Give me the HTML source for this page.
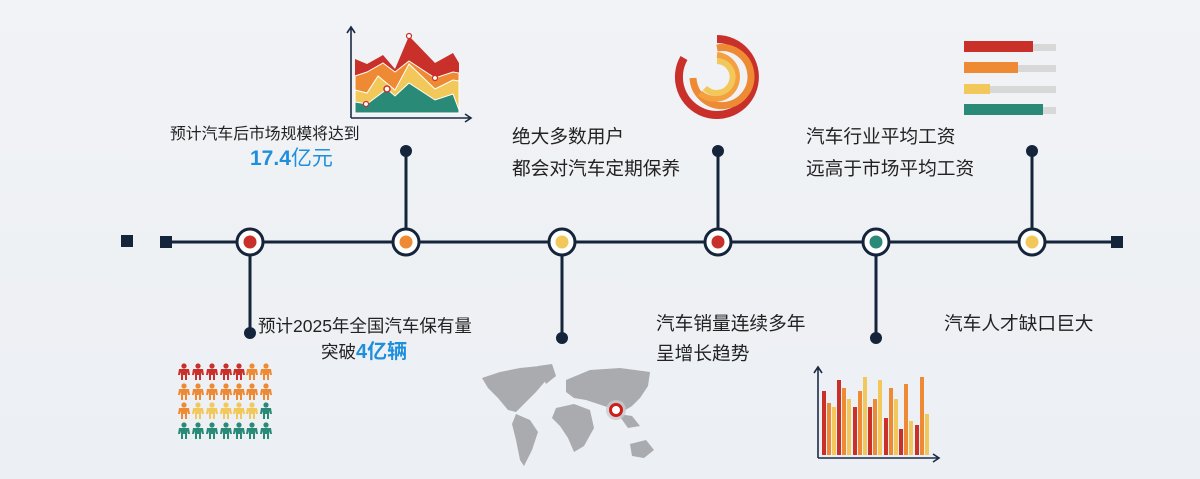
<!DOCTYPE html>
<html><head><meta charset="utf-8"><style>
html,body{margin:0;padding:0}
body{width:1200px;height:479px;overflow:hidden;background:linear-gradient(180deg,#f1f3f6,#eceff3);font-family:"Liberation Sans","Noto Sans CJK SC",sans-serif;position:relative}
.t{position:absolute;color:#222;white-space:nowrap;font-size:18.7px;line-height:22px}
.b{color:#1d8fdc;font-weight:bold}
</style></head><body>
<svg width="1200" height="479" style="position:absolute;left:0;top:0">
<g>
<polygon points="355,59 367,64 383,55 395,69 409,36 435,63 453,53 459,63 459,113 355,113" fill="#c9302a"/>
<polygon points="355,76 367,72 383,63 395,72 409,61 435,78 453,72 459,73 459,113 355,113" fill="#ee8a33" stroke="#fff" stroke-width="1"/>
<polygon points="355,90 367,93 378,76 395,90 409,64 435,89 453,80 459,81 459,113 355,113" fill="#f2c85a" stroke="#fff" stroke-width="1"/>
<polygon points="355,102 367,104 387,89 395,96 409,83 435,100 453,94 459,110 459,113 355,113" fill="#2a8a78" stroke="#fff" stroke-width="1"/>
<circle cx="409" cy="36" r="2.5" fill="#fff" stroke="#c9302a" stroke-width="1.2"/>
<circle cx="387" cy="89" r="3" fill="#fff" stroke="#c9302a" stroke-width="1.5"/>
<circle cx="366" cy="104" r="2.5" fill="#fff" stroke="#c9302a" stroke-width="1.2"/>
<circle cx="435" cy="78" r="2.5" fill="#fff" stroke="#c9302a" stroke-width="1.2"/>
<path d="M351,118 V28 M347,33 L351,27 L355,33 M351,118 H470 M465,114 L471,118 L465,122" fill="none" stroke="#1c2b44" stroke-width="1.6"/>
</g>
<g fill="none">
<path d="M717,39 A38,38 0 1 1 684,58" stroke="#c9302a" stroke-width="8"/>
<path d="M717,48 A29,29 0 1 1 693,78" stroke="#ee8a33" stroke-width="7"/>
<path d="M717,55 A22,22 0 1 1 700,93" stroke="#f5a040" stroke-width="6"/>
<path d="M717,61 A16,16 0 1 1 705,88" stroke="#f2c85a" stroke-width="6"/>
</g>
<g>
<rect x="966" y="44" width="90" height="7" fill="#d8d8d8"/><rect x="964" y="41" width="69" height="11" fill="#c9302a"/>
<rect x="966" y="65" width="90" height="7" fill="#d8d8d8"/><rect x="964" y="62" width="54" height="11" fill="#ee8a33"/>
<rect x="966" y="86" width="90" height="7" fill="#d8d8d8"/><rect x="964" y="84" width="26" height="10" fill="#f2c85a"/>
<rect x="966" y="107" width="90" height="7" fill="#d8d8d8"/><rect x="964" y="104" width="79" height="11" fill="#2a8a78"/>
</g>
<g stroke="#14253b" stroke-width="3">
<line x1="166" y1="242" x2="1117" y2="242"/>
<line x1="250" y1="242" x2="250" y2="333"/>
<line x1="406" y1="242" x2="406" y2="151"/>
<line x1="562" y1="242" x2="562" y2="338"/>
<line x1="718" y1="242" x2="718" y2="151"/>
<line x1="876" y1="242" x2="876" y2="338"/>
<line x1="1032" y1="242" x2="1032" y2="151"/>
</g>
<g fill="#14253b">
<rect x="121" y="235" width="12" height="12"/><rect x="160" y="236" width="12" height="12"/><rect x="1111" y="236" width="12" height="12"/>
<circle cx="250" cy="333" r="6"/><circle cx="406" cy="151" r="6"/><circle cx="562" cy="338" r="6"/><circle cx="718" cy="151" r="6"/><circle cx="876" cy="338" r="6"/><circle cx="1032" cy="151" r="6"/>
</g>
<g stroke="#14253b" stroke-width="3" fill="#fff">
<circle cx="250" cy="242" r="13"/><circle cx="406" cy="242" r="13"/><circle cx="562" cy="242" r="13"/><circle cx="718" cy="242" r="13"/><circle cx="876" cy="242" r="13"/><circle cx="1032" cy="242" r="13"/>
</g>
<circle cx="250" cy="242" r="6.5" fill="#c9302a"/><circle cx="406" cy="242" r="6.5" fill="#ee8a33"/><circle cx="562" cy="242" r="6.5" fill="#f2c85a"/><circle cx="718" cy="242" r="6.5" fill="#c9302a"/><circle cx="876" cy="242" r="6.5" fill="#2a8a78"/><circle cx="1032" cy="242" r="6.5" fill="#f2c85a"/>
<defs><g id="p"><circle cx="0" cy="-6" r="2.6"/><path d="M-5,-3 H5 L6,3 H4 L3,0 V8 H1 V3 H-1 V8 H-3 V0 L-4,3 H-6 Z"/></g></defs>
<g>
<use href="#p" x="184" y="372" fill="#c9302a"/><use href="#p" x="198" y="372" fill="#c9302a"/><use href="#p" x="212" y="372" fill="#c9302a"/><use href="#p" x="226" y="372" fill="#c9302a"/><use href="#p" x="239" y="372" fill="#c9302a"/><use href="#p" x="252" y="372" fill="#ee8a33"/><use href="#p" x="266" y="372" fill="#ee8a33"/>
<use href="#p" x="184" y="392" fill="#ee8a33"/><use href="#p" x="198" y="392" fill="#ee8a33"/><use href="#p" x="212" y="392" fill="#ee8a33"/><use href="#p" x="226" y="392" fill="#ee8a33"/><use href="#p" x="239" y="392" fill="#ee8a33"/><use href="#p" x="252" y="392" fill="#ee8a33"/><use href="#p" x="266" y="392" fill="#ee8a33"/>
<use href="#p" x="184" y="411" fill="#ee8a33"/><use href="#p" x="198" y="411" fill="#f2c85a"/><use href="#p" x="212" y="411" fill="#f2c85a"/><use href="#p" x="226" y="411" fill="#f2c85a"/><use href="#p" x="239" y="411" fill="#f2c85a"/><use href="#p" x="252" y="411" fill="#f2c85a"/><use href="#p" x="266" y="411" fill="#2a8a78"/>
<use href="#p" x="184" y="431" fill="#2a8a78"/><use href="#p" x="198" y="431" fill="#2a8a78"/><use href="#p" x="212" y="431" fill="#2a8a78"/><use href="#p" x="226" y="431" fill="#2a8a78"/><use href="#p" x="239" y="431" fill="#2a8a78"/><use href="#p" x="252" y="431" fill="#2a8a78"/><use href="#p" x="266" y="431" fill="#2a8a78"/>
</g>
<g fill="#a9abae">
<path d="M482,378 L500,372 L520,368 L540,366 L548,378 L536,392 L526,402 L516,412 L508,410 L498,398 L488,388 Z"/>
<path d="M538,366 L552,364 L556,376 L546,384 Z"/>
<path d="M516,414 L530,420 L538,432 L532,450 L524,466 L520,460 L516,440 L512,424 Z"/>
<path d="M556,408 L574,404 L590,410 L594,428 L584,446 L574,452 L568,438 L560,426 L552,418 Z"/>
<path d="M566,380 L590,370 L620,368 L650,372 L648,386 L640,398 L632,406 L622,412 L610,408 L598,404 L586,400 L574,398 L566,392 Z"/>
<path d="M630,444 L646,440 L654,450 L644,458 L632,456 Z"/>
<path d="M618,414 L632,416 L640,426 L628,428 Z"/>
</g>
<circle cx="616" cy="410" r="10" fill="#c8ccd0" opacity=".8"/>
<circle cx="616" cy="410" r="5.5" fill="#fff" stroke="#cc1f1a" stroke-width="3"/>
<g>
<rect x="822" y="391" width="4" height="64" fill="#c9302a"/><rect x="827" y="403" width="4" height="52" fill="#ee8a33"/><rect x="832" y="407" width="4" height="48" fill="#f2c85a"/>
<rect x="837" y="380" width="4" height="75" fill="#c9302a"/><rect x="842" y="388" width="4" height="67" fill="#ee8a33"/><rect x="847" y="399" width="4" height="56" fill="#f2c85a"/>
<rect x="853" y="407" width="4" height="48" fill="#c9302a"/><rect x="858" y="391" width="4" height="64" fill="#ee8a33"/><rect x="863" y="377" width="4" height="78" fill="#f2c85a"/>
<rect x="868" y="407" width="4" height="48" fill="#c9302a"/><rect x="873" y="399" width="4" height="56" fill="#ee8a33"/><rect x="878" y="380" width="4" height="75" fill="#f2c85a"/>
<rect x="884" y="418" width="4" height="37" fill="#c9302a"/><rect x="889" y="388" width="4" height="67" fill="#ee8a33"/><rect x="894" y="399" width="4" height="56" fill="#f2c85a"/>
<rect x="899" y="429" width="4" height="26" fill="#c9302a"/><rect x="904" y="384" width="4" height="71" fill="#ee8a33"/><rect x="909" y="421" width="4" height="34" fill="#f2c85a"/>
<rect x="915" y="425" width="4" height="30" fill="#c9302a"/><rect x="920" y="377" width="4" height="78" fill="#ee8a33"/><rect x="925" y="414" width="4" height="41" fill="#f2c85a"/>
<path d="M818,458 V368 M814,373 L818,367 L822,373 M818,458 H938 M933,454 L939,458 L933,462" fill="none" stroke="#1c2b44" stroke-width="1.6"/>
</g>
</svg>
<div class="t" style="left:170px;top:124px;font-size:15.8px">预计汽车后市场规模将达到</div>
<div class="t b" style="left:250px;top:147px;font-size:21px;line-height:24px">17.4<span style="font-weight:normal">亿元</span></div>
<div class="t" style="left:512px;top:126px">绝大多数用户</div>
<div class="t" style="left:512px;top:158px">都会对汽车定期保养</div>
<div class="t" style="left:806px;top:126px">汽车行业平均工资</div>
<div class="t" style="left:806px;top:158px">远高于市场平均工资</div>
<div class="t" style="left:258px;top:315px;font-size:17.5px">预计2025年全国汽车保有量</div>
<div class="t" style="left:321px;top:341px;font-size:17.5px;line-height:22px">突破<span class="b" style="font-size:20px">4亿辆</span></div>
<div class="t" style="left:656px;top:313px">汽车销量连续多年</div>
<div class="t" style="left:656px;top:343px">呈增长趋势</div>
<div class="t" style="left:944px;top:313px">汽车人才缺口巨大</div>
</body></html>
